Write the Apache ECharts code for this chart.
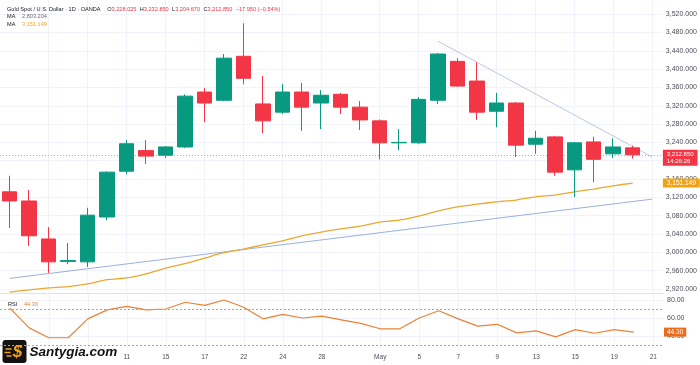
<!DOCTYPE html>
<html><head><meta charset="utf-8">
<script src="https://cdn.jsdelivr.net/npm/echarts@6/dist/echarts.min.js"></script>
<style>html,body{margin:0;padding:0;background:#fff}#c{width:700px;height:365px}</style>
</head><body><div id="c"></div>
<script>
// ---- data ----
const dates = ['Apr 3','Apr 4','Apr 7','Apr 8','Apr 9','Apr 10','Apr 11','Apr 14','Apr 15','Apr 16','Apr 17','Apr 21','Apr 22','Apr 23','Apr 24','Apr 25','Apr 28','Apr 29','Apr 30','May 1','May 2','May 5','May 6','May 7','May 8','May 9','May 12','May 13','May 14','May 15','May 16','May 19','May 20','May 21'];
const opens  = [3132,3112,3029,2980,2979,3077,3177,3222,3212,3230,3350,3332,3428,3324,3306,3350,3326,3345,3317,3287,3239,3239,3332,3417,3374,3308,3326,3236,3252,3180,3241,3215,3228.025];
const closes = [3112,3036,2979,2982,3081,3175,3237,3210,3230,3341,3326,3424,3380,3287,3350,3317,3343,3317,3289,3239,3240,3334,3433,3363,3306,3326,3234,3249,3175,3239,3203,3230,3212.850];
const lows   = [3053,3014,2955,2974,2968,3070,3170,3193,3206,3228,3284,3330,3367,3260,3302,3265,3269,3302,3267,3203,3223,3237,3324,3361,3289,3273,3208,3215,3167,3121,3153,3206,3204.670];
const highs  = [3167,3136,3055,3020,3097,3177,3245,3245,3232,3345,3359,3433,3500,3385,3367,3370,3354,3348,3330,3290,3269,3339,3435,3424,3415,3348,3328,3265,3254,3241,3252,3249,3232.850];
const maValues = [2913,2918,2922,2925,2931,2940,2944,2953,2965,2975,2987,2999,3007,3016,3025,3036,3044,3051,3057,3066,3070,3079,3090,3099,3105,3110,3114,3121,3125,3132,3138,3145,3151.149];
const rsiValues = [71,49,38,38,59,69,73,69,70,77.5,74,80,72,59,64,60,62,58,54,48,48,60,68,59,51,53,43.5,45.6,39,47,43,47,44.30];
const trendUpDates = ['Apr 3','May 21'];
const trendUpValues = [2943,3116];
const trendDownDates = ['May 6','May 21'];
const trendDownValues = [3461,3208];
const priceTicks = [2920,2960,3000,3040,3080,3120,3160,3200,3240,3280,3320,3360,3400,3440,3480,3520];
const priceLabelTicks = [2920,2960,3000,3040,3080,3120,3160,3240,3280,3320,3360,3400,3440,3480,3520];
const rsiTicks = [40,60,80];
const rsiBands = [70,30];
const xTickDates  = ['Apr 7','Apr 9','Apr 11','Apr 15','Apr 17','Apr 22','Apr 24','Apr 28','May 1','May 5','May 7','May 9','May 13','May 15','May 19','May 21'];
const xTickLabels = ['7','9','11','15','17','22','24','28','May','5','7','9','13','15','19','21'];
const hiddenTickDates = ['Apr 7','Apr 9'];
const maPrev = 2803.204;
const change = -17.950, changePct = -0.54;
const countdown = '14:26:26';

// ---- helpers ----
const fmt3 = v => v.toLocaleString('en-US',{minimumFractionDigits:3,maximumFractionDigits:3});
const sparse = (ds, vs) => dates.map(d => { const i = ds.indexOf(d); return i >= 0 ? vs[i] : '-'; });
const UP = '#089981', DOWN = '#F23645';
const last = closes.length - 1;
const FONT = 'Liberation Sans, Arial, sans-serif';
const NONE = 'rgba(0,0,0,0)';

const chart = echarts.init(document.getElementById('c'), null, {renderer:'canvas'});
const candleData = opens.map((o,i) => [o, closes[i], lows[i], highs[i]]);

const xBase = {
  type:'category', data:dates, boundaryGap:true,
  axisLine:{show:false}, axisTick:{show:false},
  splitLine:{show:true, alignWithLabel:true, interval:(i,v)=>xTickDates.includes(v), lineStyle:{color:'#f0f3fa', width:1}}
};

const option = {
  animation:false,
  backgroundColor:'#ffffff',
  textStyle:{fontFamily:FONT},
  grid:[
    {left:0, right:37, top:0, height:293},
    {left:0, right:37, top:293, height:57}
  ],
  xAxis:[
    Object.assign({}, xBase, {gridIndex:0, axisLabel:{show:false}}),
    Object.assign({}, xBase, {gridIndex:1,
      axisLabel:{show:true, interval:(i,v)=>xTickDates.includes(v) && !hiddenTickDates.includes(v),
        formatter:v=>xTickLabels[xTickDates.indexOf(v)], fontSize:6.5, color:'#4a4e59', margin:4, fontFamily:FONT}}),
    {type:'category', data:dates, gridIndex:1, position:'top', axisLine:{show:true, lineStyle:{color:'#e0e3eb'}}, axisTick:{show:false}, axisLabel:{show:false}, splitLine:{show:false}}
  ],
  yAxis:[
    {type:'value', gridIndex:0, position:'right', min:2911, max:3551, scale:true,
      axisLine:{show:false}, axisTick:{show:false, customValues:priceTicks},
      axisLabel:{customValues:priceLabelTicks, formatter:v=>fmt3(v), fontSize:7, color:'#4a4e59', margin:4, fontFamily:FONT},
      splitLine:{show:true, lineStyle:{color:'#f0f3fa'}}},
    {type:'value', gridIndex:1, position:'right', min:24.4, max:87.8,
      axisLine:{show:false}, axisTick:{show:false, customValues:rsiTicks},
      axisLabel:{customValues:rsiTicks, formatter:v=>v.toFixed(2), fontSize:7, color:'#4a4e59', margin:4, fontFamily:FONT},
      splitLine:{show:true, lineStyle:{color:'#f0f3fa'}}}
  ],
  series:[
    {name:'Trend up', type:'line', xAxisIndex:0, yAxisIndex:0, data:sparse(trendUpDates, trendUpValues), connectNulls:true,
      symbol:'none', lineStyle:{color:'#9bb1de', width:1}, z:1, silent:true},
    {name:'Trend down', type:'line', xAxisIndex:0, yAxisIndex:0, data:sparse(trendDownDates, trendDownValues), connectNulls:true,
      symbol:'none', lineStyle:{color:'#bcc7e6', width:1}, z:1, silent:true},
    {name:'MA', type:'line', xAxisIndex:0, yAxisIndex:0, data:maValues, symbol:'none', smooth:0.2,
      lineStyle:{color:'#eaa830', width:1.3}, z:2, silent:true,
      markLine:{symbol:'none', silent:true, data:[{yAxis:maValues[last]}], lineStyle:{color:NONE, width:0},
        label:{show:true, position:'end', distance:1, formatter:()=>fmt3(maValues[last]), backgroundColor:'#F2A20F', color:'#fff', fontSize:6.5, padding:[1,4,1,4], fontFamily:FONT}}},
    {name:'XAUUSD', type:'candlestick', xAxisIndex:0, yAxisIndex:0, data:candleData, barWidth:'77%', z:3,
      itemStyle:{color:UP, color0:DOWN, borderColor:UP, borderColor0:DOWN, borderWidth:1},
      markLine:{symbol:'none', silent:true,
        data:[
          {yAxis:closes[last], lineStyle:{color:'rgba(242,54,69,0.55)', type:[1,2], width:1}, label:{show:false}},
          {yAxis:closes[last], lineStyle:{color:NONE, width:0},
            label:{show:true, position:'end', distance:1, offset:[0,3], formatter:()=>fmt3(closes[last])+'\n'+countdown, backgroundColor:DOWN, color:'#fff', fontSize:6, lineHeight:7, padding:[1,4,1,4], fontFamily:FONT}}
        ]}},
    {name:'RSI', type:'line', xAxisIndex:1, yAxisIndex:1, data:rsiValues, symbol:'none',
      lineStyle:{color:'#EB8236', width:1.2}, silent:true,
      markLine:{symbol:'none', silent:true,
        data:[
          {yAxis:rsiBands[0], lineStyle:{color:'#a3a6ae', type:[2,2], width:1}, label:{show:false}},
          {yAxis:rsiBands[1], lineStyle:{color:'#a3a6ae', type:[2,2], width:1}, label:{show:false}},
          {yAxis:rsiValues[last], lineStyle:{color:NONE, width:0},
            label:{show:true, position:'end', distance:1, formatter:()=>rsiValues[last].toFixed(2), backgroundColor:'#EC6C1E', color:'#fff', fontSize:6.5, padding:[1,3,1,3], fontFamily:FONT}}
        ]}}
  ],
  graphic:[
    {type:'text', left:7, top:3, z:10, silent:true, style:{
      text:'{t|Gold Spot / U.S. Dollar · 1D · OANDA}  {k|O}{v|'+fmt3(opens[last])+'} {k|H}{v|'+fmt3(highs[last])+'} {k|L}{v|'+fmt3(lows[last])+'} {k|C}{v|'+fmt3(closes[last])+'} {v|'+(change<0?'−':'+')+Math.abs(change).toFixed(3)+' ('+(changePct<0?'−':'+')+Math.abs(changePct).toFixed(2)+'%)}',
      rich:{t:{fontSize:5.6, fill:'#131722', fontFamily:FONT}, k:{fontSize:5.6, fill:'#131722', fontFamily:FONT}, v:{fontSize:5.6, fill:DOWN, fontFamily:FONT}}}},
    {type:'text', left:7, top:10.5, z:10, silent:true, style:{
      text:'{k|MA}  {g|'+fmt3(maPrev)+'}', rich:{k:{fontSize:5.6, fill:'#131722', fontFamily:FONT}, g:{fontSize:5.6, fill:'#6a6d78', fontFamily:FONT}}}},
    {type:'text', left:7, top:18, z:10, silent:true, style:{
      text:'{k|MA}  {o|'+fmt3(maValues[last])+'}', rich:{k:{fontSize:5.6, fill:'#131722', fontFamily:FONT}, o:{fontSize:5.6, fill:'#eaa830', fontFamily:FONT}}}},
    {type:'text', left:8, top:298, z:10, silent:true, style:{
      text:'{k|RSI}  {o|'+rsiValues[last].toFixed(2)+'}', rich:{k:{fontSize:5.6, fill:'#131722', fontFamily:FONT}, o:{fontSize:5.6, fill:'#EB8236', fontFamily:FONT}}}},
    {type:'group', left:2, top:340, z:20, children:[
      {type:'rect', shape:{x:0, y:0, width:24, height:23, r:3}, style:{fill:'#121212'}},
      {type:'line', shape:{x1:3, y1:9, x2:9, y2:9}, style:{stroke:'#F5A21B', lineWidth:1.5}},
      {type:'line', shape:{x1:2, y1:12.5, x2:8, y2:12.5}, style:{stroke:'#F5A21B', lineWidth:1.5}},
      {type:'line', shape:{x1:4, y1:16, x2:9, y2:16}, style:{stroke:'#F5A21B', lineWidth:1.5}},
      {type:'text', x:15, y:12, style:{text:'$', fill:'#F5A21B', font:'italic bold 17px '+FONT, align:'center', verticalAlign:'middle'}},
      {type:'text', x:27, y:12, style:{text:'Santygia.com', fill:'#111', font:'italic 900 13.5px '+FONT, verticalAlign:'middle'}}
    ]}
  ]
};
chart.setOption(option);
</script></body></html>
